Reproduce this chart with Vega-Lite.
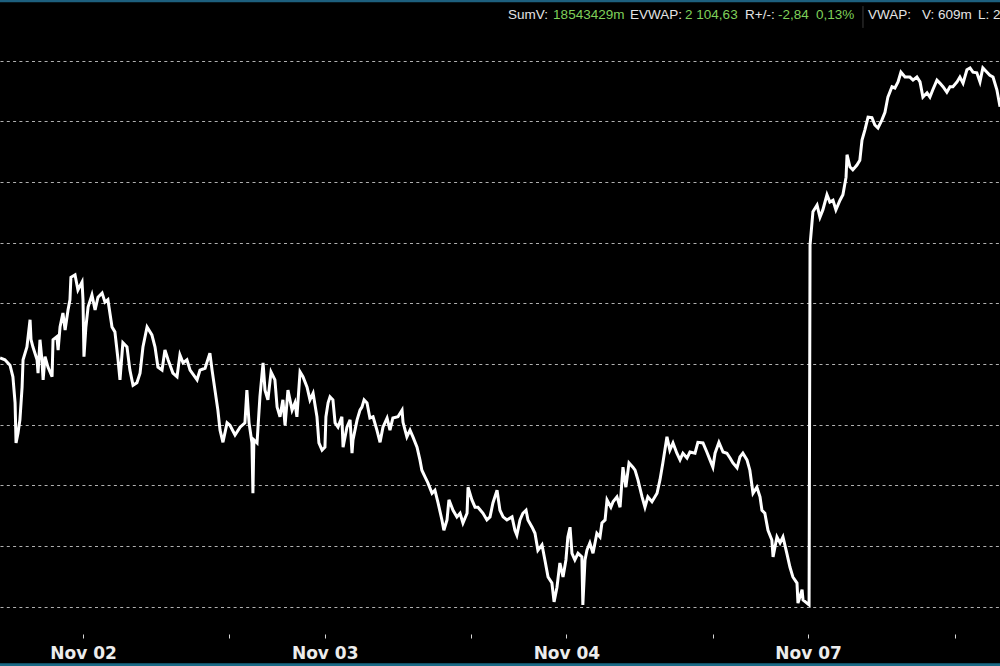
{
  "$schema": "https://vega.github.io/schema/vega-lite/v6.json",
  "width": 1000,
  "height": 666,
  "padding": 0,
  "autosize": {"type": "none"},
  "background": "#000000",
  "config": {"view": {"stroke": null}},
  "layer": [
    {
      "data": {"values": [{}]},
      "mark": {"type": "rule", "color": "#1d5f7e", "strokeWidth": 2.5},
      "encoding": {"y": {"datum": 2139.85}}
    },
    {
      "data": {"values": [{}]},
      "mark": {"type": "rule", "color": "#1a6a86", "strokeWidth": 3},
      "encoding": {"y": {"datum": 2030.45}}
    },
    {
      "data": {"values": [
        {"t": -0.343, "p": 2081.0}, {"t": -0.323, "p": 2080.7}, {"t": -0.302, "p": 2079.8}, {"t": -0.290, "p": 2077.9},
        {"t": -0.281, "p": 2073.6}, {"t": -0.277, "p": 2067.0}, {"t": -0.269, "p": 2068.6}, {"t": -0.261, "p": 2070.8},
        {"t": -0.252, "p": 2076.2}, {"t": -0.248, "p": 2080.7}, {"t": -0.232, "p": 2082.8}, {"t": -0.219, "p": 2087.3},
        {"t": -0.215, "p": 2084.0}, {"t": -0.207, "p": 2082.8}, {"t": -0.190, "p": 2080.7}, {"t": -0.186, "p": 2078.5},
        {"t": -0.178, "p": 2084.0}, {"t": -0.170, "p": 2080.7}, {"t": -0.165, "p": 2077.4}, {"t": -0.157, "p": 2081.2},
        {"t": -0.145, "p": 2079.5}, {"t": -0.128, "p": 2077.9}, {"t": -0.124, "p": 2084.0}, {"t": -0.108, "p": 2084.5},
        {"t": -0.103, "p": 2082.3}, {"t": -0.095, "p": 2086.1}, {"t": -0.083, "p": 2088.4}, {"t": -0.074, "p": 2085.6},
        {"t": -0.062, "p": 2088.9}, {"t": -0.054, "p": 2090.6}, {"t": -0.050, "p": 2094.3}, {"t": -0.033, "p": 2094.7},
        {"t": -0.021, "p": 2092.2}, {"t": -0.004, "p": 2093.5}, {"t": 0.000, "p": 2090.6}, {"t": 0.004, "p": 2081.2},
        {"t": 0.012, "p": 2086.1}, {"t": 0.021, "p": 2089.4}, {"t": 0.037, "p": 2091.4}, {"t": 0.050, "p": 2088.9},
        {"t": 0.062, "p": 2091.0}, {"t": 0.079, "p": 2091.7}, {"t": 0.091, "p": 2090.2}, {"t": 0.103, "p": 2090.6},
        {"t": 0.120, "p": 2086.1}, {"t": 0.132, "p": 2085.3}, {"t": 0.145, "p": 2080.7}, {"t": 0.153, "p": 2077.4},
        {"t": 0.165, "p": 2083.5}, {"t": 0.182, "p": 2082.8}, {"t": 0.194, "p": 2079.0}, {"t": 0.207, "p": 2076.5},
        {"t": 0.223, "p": 2076.9}, {"t": 0.236, "p": 2078.5}, {"t": 0.248, "p": 2082.8}, {"t": 0.265, "p": 2086.1},
        {"t": 0.285, "p": 2084.8}, {"t": 0.298, "p": 2082.8}, {"t": 0.310, "p": 2079.5}, {"t": 0.327, "p": 2079.0},
        {"t": 0.339, "p": 2082.3}, {"t": 0.352, "p": 2080.7}, {"t": 0.372, "p": 2078.5}, {"t": 0.389, "p": 2077.9},
        {"t": 0.401, "p": 2081.5}, {"t": 0.414, "p": 2080.2}, {"t": 0.430, "p": 2080.7}, {"t": 0.443, "p": 2079.0},
        {"t": 0.472, "p": 2077.4}, {"t": 0.484, "p": 2079.0}, {"t": 0.505, "p": 2079.3}, {"t": 0.525, "p": 2081.8},
        {"t": 0.534, "p": 2079.0}, {"t": 0.546, "p": 2075.7}, {"t": 0.558, "p": 2072.4}, {"t": 0.567, "p": 2069.1},
        {"t": 0.579, "p": 2067.1}, {"t": 0.596, "p": 2070.3}, {"t": 0.608, "p": 2069.9}, {"t": 0.629, "p": 2068.3},
        {"t": 0.650, "p": 2069.6}, {"t": 0.670, "p": 2070.3}, {"t": 0.678, "p": 2075.7}, {"t": 0.687, "p": 2070.3},
        {"t": 0.699, "p": 2067.0}, {"t": 0.703, "p": 2058.7}, {"t": 0.707, "p": 2067.5}, {"t": 0.720, "p": 2067.0},
        {"t": 0.732, "p": 2074.6}, {"t": 0.745, "p": 2080.2}, {"t": 0.753, "p": 2075.7}, {"t": 0.765, "p": 2074.1},
        {"t": 0.778, "p": 2078.7}, {"t": 0.794, "p": 2077.4}, {"t": 0.803, "p": 2072.9}, {"t": 0.815, "p": 2071.3},
        {"t": 0.827, "p": 2074.1}, {"t": 0.836, "p": 2069.9}, {"t": 0.848, "p": 2075.7}, {"t": 0.865, "p": 2072.4},
        {"t": 0.877, "p": 2073.6}, {"t": 0.885, "p": 2071.3}, {"t": 0.898, "p": 2078.7}, {"t": 0.910, "p": 2077.9},
        {"t": 0.927, "p": 2076.2}, {"t": 0.939, "p": 2074.1}, {"t": 0.952, "p": 2075.2}, {"t": 0.968, "p": 2071.3},
        {"t": 0.976, "p": 2067.0}, {"t": 0.989, "p": 2065.8}, {"t": 1.001, "p": 2066.3}, {"t": 1.005, "p": 2071.3},
        {"t": 1.014, "p": 2073.6}, {"t": 1.022, "p": 2074.6}, {"t": 1.034, "p": 2074.1}, {"t": 1.043, "p": 2070.3},
        {"t": 1.055, "p": 2069.6}, {"t": 1.071, "p": 2071.3}, {"t": 1.076, "p": 2066.3}, {"t": 1.092, "p": 2069.6},
        {"t": 1.105, "p": 2070.8}, {"t": 1.113, "p": 2065.3}, {"t": 1.117, "p": 2067.5}, {"t": 1.134, "p": 2070.8},
        {"t": 1.146, "p": 2072.4}, {"t": 1.154, "p": 2072.9}, {"t": 1.163, "p": 2074.1}, {"t": 1.175, "p": 2073.6},
        {"t": 1.187, "p": 2071.1}, {"t": 1.200, "p": 2071.3}, {"t": 1.216, "p": 2069.1}, {"t": 1.229, "p": 2067.1},
        {"t": 1.241, "p": 2069.6}, {"t": 1.258, "p": 2071.1}, {"t": 1.270, "p": 2069.1}, {"t": 1.282, "p": 2071.1},
        {"t": 1.303, "p": 2071.3}, {"t": 1.320, "p": 2072.4}, {"t": 1.324, "p": 2070.4}, {"t": 1.340, "p": 2068.0},
        {"t": 1.353, "p": 2069.1}, {"t": 1.365, "p": 2068.0}, {"t": 1.382, "p": 2066.3}, {"t": 1.394, "p": 2064.2},
        {"t": 1.402, "p": 2062.5}, {"t": 1.415, "p": 2061.4}, {"t": 1.427, "p": 2060.4}, {"t": 1.444, "p": 2058.7},
        {"t": 1.456, "p": 2059.2}, {"t": 1.469, "p": 2057.1}, {"t": 1.485, "p": 2054.3}, {"t": 1.493, "p": 2052.6},
        {"t": 1.506, "p": 2054.3}, {"t": 1.514, "p": 2057.6}, {"t": 1.531, "p": 2055.9}, {"t": 1.547, "p": 2054.8},
        {"t": 1.560, "p": 2055.4}, {"t": 1.572, "p": 2053.8}, {"t": 1.589, "p": 2055.4}, {"t": 1.593, "p": 2059.7},
        {"t": 1.609, "p": 2057.6}, {"t": 1.622, "p": 2056.4}, {"t": 1.634, "p": 2056.4}, {"t": 1.655, "p": 2055.4},
        {"t": 1.671, "p": 2054.3}, {"t": 1.684, "p": 2054.8}, {"t": 1.696, "p": 2057.1}, {"t": 1.713, "p": 2059.2},
        {"t": 1.725, "p": 2055.9}, {"t": 1.738, "p": 2054.8}, {"t": 1.754, "p": 2054.3}, {"t": 1.775, "p": 2054.8},
        {"t": 1.787, "p": 2052.6}, {"t": 1.795, "p": 2051.8}, {"t": 1.808, "p": 2054.3}, {"t": 1.820, "p": 2055.4},
        {"t": 1.833, "p": 2055.9}, {"t": 1.841, "p": 2054.3}, {"t": 1.858, "p": 2053.1}, {"t": 1.870, "p": 2052.1},
        {"t": 1.882, "p": 2049.3}, {"t": 1.899, "p": 2050.2}, {"t": 1.911, "p": 2047.7}, {"t": 1.924, "p": 2044.9},
        {"t": 1.940, "p": 2043.9}, {"t": 1.949, "p": 2040.8}, {"t": 1.961, "p": 2043.2}, {"t": 1.973, "p": 2047.2},
        {"t": 1.986, "p": 2044.9}, {"t": 1.998, "p": 2047.7}, {"t": 2.006, "p": 2051.5}, {"t": 2.015, "p": 2053.1},
        {"t": 2.023, "p": 2048.8}, {"t": 2.035, "p": 2047.7}, {"t": 2.048, "p": 2048.8}, {"t": 2.064, "p": 2048.2},
        {"t": 2.068, "p": 2040.3}, {"t": 2.077, "p": 2047.7}, {"t": 2.085, "p": 2049.3}, {"t": 2.097, "p": 2050.5},
        {"t": 2.110, "p": 2048.8}, {"t": 2.126, "p": 2052.1}, {"t": 2.139, "p": 2051.5}, {"t": 2.147, "p": 2053.8},
        {"t": 2.160, "p": 2054.3}, {"t": 2.168, "p": 2057.6}, {"t": 2.184, "p": 2056.4}, {"t": 2.193, "p": 2057.3},
        {"t": 2.209, "p": 2058.1}, {"t": 2.222, "p": 2056.4}, {"t": 2.234, "p": 2063.0}, {"t": 2.246, "p": 2059.7},
        {"t": 2.259, "p": 2063.7}, {"t": 2.275, "p": 2063.0}, {"t": 2.284, "p": 2062.5}, {"t": 2.296, "p": 2060.9},
        {"t": 2.313, "p": 2058.1}, {"t": 2.325, "p": 2056.4}, {"t": 2.337, "p": 2058.1}, {"t": 2.354, "p": 2057.3},
        {"t": 2.375, "p": 2058.7}, {"t": 2.387, "p": 2060.9}, {"t": 2.399, "p": 2063.7}, {"t": 2.416, "p": 2068.0},
        {"t": 2.428, "p": 2065.8}, {"t": 2.441, "p": 2067.0}, {"t": 2.457, "p": 2065.3}, {"t": 2.470, "p": 2064.2},
        {"t": 2.482, "p": 2065.3}, {"t": 2.499, "p": 2064.5}, {"t": 2.511, "p": 2065.5}, {"t": 2.532, "p": 2065.3},
        {"t": 2.544, "p": 2067.1}, {"t": 2.565, "p": 2067.0}, {"t": 2.581, "p": 2065.5}, {"t": 2.594, "p": 2064.2},
        {"t": 2.606, "p": 2063.0}, {"t": 2.615, "p": 2065.3}, {"t": 2.631, "p": 2067.1}, {"t": 2.648, "p": 2065.5},
        {"t": 2.664, "p": 2065.3}, {"t": 2.677, "p": 2064.5}, {"t": 2.689, "p": 2063.7}, {"t": 2.706, "p": 2062.9},
        {"t": 2.718, "p": 2064.7}, {"t": 2.730, "p": 2065.3}, {"t": 2.747, "p": 2064.2}, {"t": 2.759, "p": 2062.5},
        {"t": 2.772, "p": 2058.7}, {"t": 2.788, "p": 2059.7}, {"t": 2.801, "p": 2058.1}, {"t": 2.809, "p": 2055.9},
        {"t": 2.821, "p": 2055.4}, {"t": 2.834, "p": 2052.6}, {"t": 2.850, "p": 2051.0}, {"t": 2.855, "p": 2048.2},
        {"t": 2.871, "p": 2051.5}, {"t": 2.884, "p": 2050.5}, {"t": 2.896, "p": 2051.5}, {"t": 2.912, "p": 2048.8},
        {"t": 2.925, "p": 2046.5}, {"t": 2.937, "p": 2044.9}, {"t": 2.954, "p": 2043.9}, {"t": 2.958, "p": 2040.6},
        {"t": 2.975, "p": 2042.8}, {"t": 2.979, "p": 2041.1}, {"t": 2.995, "p": 2040.6}, {"t": 3.004, "p": 2040.3},
        {"t": 3.008, "p": 2099.6}, {"t": 3.020, "p": 2105.1}, {"t": 3.037, "p": 2106.2}, {"t": 3.049, "p": 2104.2},
        {"t": 3.061, "p": 2105.4}, {"t": 3.078, "p": 2107.9}, {"t": 3.090, "p": 2106.7}, {"t": 3.103, "p": 2107.0},
        {"t": 3.115, "p": 2105.4}, {"t": 3.132, "p": 2107.0}, {"t": 3.144, "p": 2107.9}, {"t": 3.157, "p": 2110.8},
        {"t": 3.161, "p": 2114.5}, {"t": 3.173, "p": 2112.5}, {"t": 3.185, "p": 2112.0}, {"t": 3.202, "p": 2112.8},
        {"t": 3.214, "p": 2113.6}, {"t": 3.223, "p": 2116.9}, {"t": 3.235, "p": 2118.6}, {"t": 3.248, "p": 2120.7},
        {"t": 3.264, "p": 2120.6}, {"t": 3.276, "p": 2119.4}, {"t": 3.289, "p": 2118.9}, {"t": 3.305, "p": 2120.2},
        {"t": 3.318, "p": 2121.5}, {"t": 3.330, "p": 2124.0}, {"t": 3.347, "p": 2125.7}, {"t": 3.359, "p": 2125.5},
        {"t": 3.372, "p": 2126.5}, {"t": 3.384, "p": 2128.1}, {"t": 3.401, "p": 2127.3}, {"t": 3.421, "p": 2127.3},
        {"t": 3.434, "p": 2126.8}, {"t": 3.450, "p": 2127.3}, {"t": 3.463, "p": 2126.5}, {"t": 3.475, "p": 2124.0},
        {"t": 3.492, "p": 2124.7}, {"t": 3.504, "p": 2124.0}, {"t": 3.516, "p": 2125.2}, {"t": 3.533, "p": 2126.8},
        {"t": 3.545, "p": 2126.3}, {"t": 3.558, "p": 2125.7}, {"t": 3.574, "p": 2124.8}, {"t": 3.587, "p": 2125.7},
        {"t": 3.599, "p": 2125.7}, {"t": 3.616, "p": 2126.5}, {"t": 3.628, "p": 2127.3}, {"t": 3.641, "p": 2126.3},
        {"t": 3.657, "p": 2128.5}, {"t": 3.670, "p": 2128.8}, {"t": 3.682, "p": 2128.1}, {"t": 3.698, "p": 2128.0},
        {"t": 3.711, "p": 2126.5}, {"t": 3.723, "p": 2128.8}, {"t": 3.740, "p": 2128.1}, {"t": 3.752, "p": 2127.6},
        {"t": 3.765, "p": 2127.3}, {"t": 3.781, "p": 2125.2}, {"t": 3.794, "p": 2122.4}
      ]},
      "mark": {"type": "line", "color": "#ffffff", "strokeWidth": 3, "interpolate": "linear"},
      "encoding": {
        "x": {
          "field": "t", "type": "quantitative",
          "scale": {"domain": [-0.3434, 3.7939], "nice": false, "zero": false},
          "axis": {
            "title": null, "orient": "bottom", "offset": -32, "domain": false, "grid": false,
            "values": [0, 0.605, 1, 1.605, 2, 2.606, 3, 3.607],
            "labelExpr": "datum.value == 0 ? 'Nov 02' : datum.value == 1 ? 'Nov 03' : datum.value == 2 ? 'Nov 04' : datum.value == 3 ? 'Nov 07' : ''",
            "ticks": true, "tickSize": 4, "tickWidth": 1, "tickColor": "#d8d8d8",
            "labelFont": "DejaVu Sans", "labelFontWeight": "bold", "labelFontSize": 17,
            "labelColor": "#ececec", "labelPadding": 7, "labelOverlap": false, "labelFlush": false
          }
        },
        "y": {
          "field": "p", "type": "quantitative",
          "scale": {"domain": [2030.226, 2140], "nice": false, "zero": false},
          "axis": {
            "title": null, "labels": false, "ticks": false, "domain": false, "grid": true,
            "values": [2040, 2050, 2060, 2070, 2080, 2090, 2100, 2110, 2120, 2130],
            "gridColor": "#b0b0b0", "gridDash": [3, 3.3], "gridWidth": 1
          }
        }
      }
    },
    {
      "data": {"values": [{}]},
      "mark": {"type": "rule", "color": "#3a3a3a", "strokeWidth": 1},
      "encoding": {"x": {"datum": 3.227}, "y": {"datum": 2139.0}, "y2": {"datum": 2135.4}}
    },
    {
      "data": {"values": [{}]},
      "mark": {"type": "text", "align": "left", "baseline": "alphabetic", "font": "Liberation Sans", "fontSize": 13.5, "color": "#e4e4e4"},
      "encoding": {"x": {"datum": 1.758}, "y": {"datum": 2136.87}, "text": {"value": "SumV:"}}
    },
    {
      "data": {"values": [{}]},
      "mark": {"type": "text", "align": "left", "baseline": "alphabetic", "font": "Liberation Sans", "fontSize": 13.5, "color": "#7fd05a"},
      "encoding": {"x": {"datum": 1.945}, "y": {"datum": 2136.87}, "text": {"value": "18543429m"}}
    },
    {
      "data": {"values": [{}]},
      "mark": {"type": "text", "align": "left", "baseline": "alphabetic", "font": "Liberation Sans", "fontSize": 13.5, "color": "#e4e4e4"},
      "encoding": {"x": {"datum": 2.263}, "y": {"datum": 2136.87}, "text": {"value": "EVWAP:"}}
    },
    {
      "data": {"values": [{}]},
      "mark": {"type": "text", "align": "left", "baseline": "alphabetic", "font": "Liberation Sans", "fontSize": 13.5, "color": "#7fd05a"},
      "encoding": {"x": {"datum": 2.491}, "y": {"datum": 2136.87}, "text": {"value": "2 104,63"}}
    },
    {
      "data": {"values": [{}]},
      "mark": {"type": "text", "align": "left", "baseline": "alphabetic", "font": "Liberation Sans", "fontSize": 13.5, "color": "#e4e4e4"},
      "encoding": {"x": {"datum": 2.739}, "y": {"datum": 2136.87}, "text": {"value": "R+/-:"}}
    },
    {
      "data": {"values": [{}]},
      "mark": {"type": "text", "align": "left", "baseline": "alphabetic", "font": "Liberation Sans", "fontSize": 13.5, "color": "#7fd05a"},
      "encoding": {"x": {"datum": 2.875}, "y": {"datum": 2136.87}, "text": {"value": "-2,84"}}
    },
    {
      "data": {"values": [{}]},
      "mark": {"type": "text", "align": "left", "baseline": "alphabetic", "font": "Liberation Sans", "fontSize": 13.5, "color": "#7fd05a"},
      "encoding": {"x": {"datum": 3.033}, "y": {"datum": 2136.87}, "text": {"value": "0,13%"}}
    },
    {
      "data": {"values": [{}]},
      "mark": {"type": "text", "align": "left", "baseline": "alphabetic", "font": "Liberation Sans", "fontSize": 13.5, "color": "#e4e4e4"},
      "encoding": {"x": {"datum": 3.248}, "y": {"datum": 2136.87}, "text": {"value": "VWAP:"}}
    },
    {
      "data": {"values": [{}]},
      "mark": {"type": "text", "align": "left", "baseline": "alphabetic", "font": "Liberation Sans", "fontSize": 13.5, "color": "#e4e4e4"},
      "encoding": {"x": {"datum": 3.471}, "y": {"datum": 2136.87}, "text": {"value": "V: 609m"}}
    },
    {
      "data": {"values": [{}]},
      "mark": {"type": "text", "align": "left", "baseline": "alphabetic", "font": "Liberation Sans", "fontSize": 13.5, "color": "#e4e4e4"},
      "encoding": {"x": {"datum": 3.703}, "y": {"datum": 2136.87}, "text": {"value": "L: 2"}}
    }
  ]
}
